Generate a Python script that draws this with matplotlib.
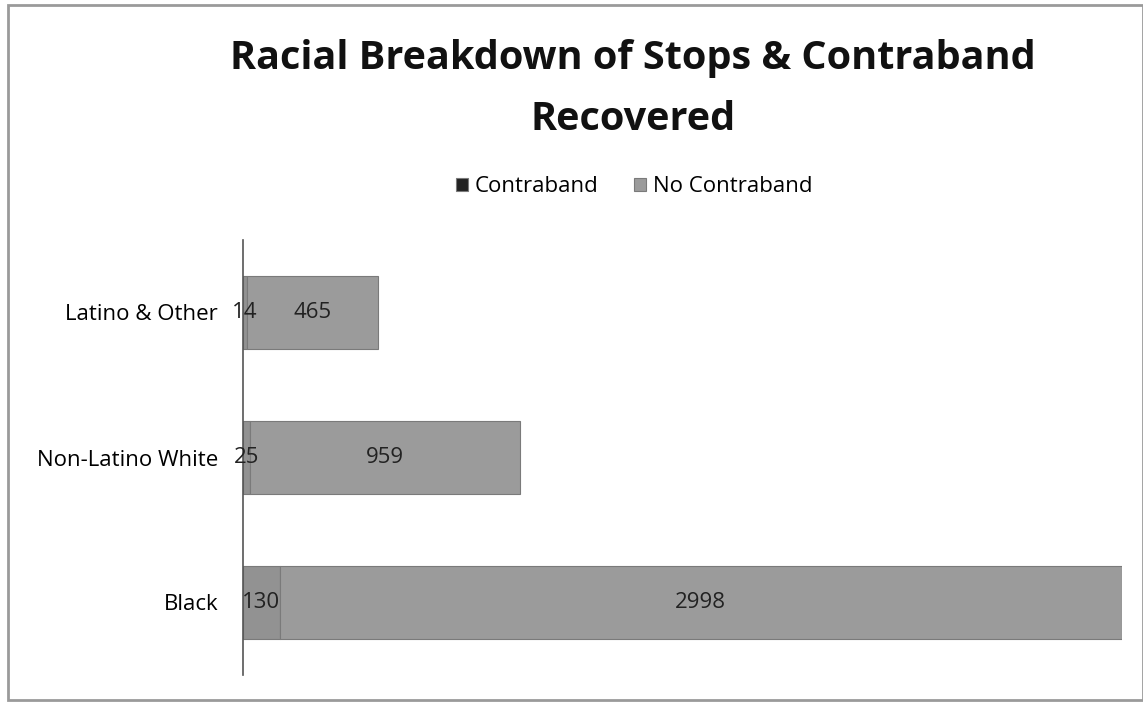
import numpy as np
import matplotlib
matplotlib.use("Agg")
import matplotlib.pyplot as plt
from matplotlib.patches import Rectangle

# stops by race, split by whether contraband was recovered
groups = ["Black", "Non-Latino White", "Latino & Other"]
contraband = [130, 25, 14]
no_contraband = [2998, 959, 465]

plt.rcParams['font.family'] = ['Open Sans', 'DejaVu Sans']

fig = plt.figure(figsize=(11.43, 7.02), dpi=100)
ax = fig.add_axes([243/1143, 1 - 675/702, (1122-243)/1143, (675-240)/702])

y = np.arange(len(groups))
c1 = "#929292"
c2 = "#9b9b9b"
b1 = ax.barh(y, contraband, height=0.5, color=c1, edgecolor="#7a7a7a", linewidth=0.8)
b2 = ax.barh(y, no_contraband, left=contraband, height=0.5, color=c2,
             edgecolor="#7a7a7a", linewidth=0.8)

for vals, lefts in [(contraband, [0]*3), (no_contraband, contraband)]:
    for i, (v, l) in enumerate(zip(vals, lefts)):
        ax.text(l + v/2, i, str(v), ha="center", va="center", fontsize=16, color="#222222")

ax.set_xlim(0, contraband[0] + no_contraband[0])
ax.set_ylim(-0.5, 2.5)
ax.set_yticks(y)
ax.set_yticklabels(groups, fontsize=16)
ax.tick_params(axis="y", length=0, pad=18)
ax.set_xticks([])
for s in ["top", "right", "bottom"]:
    ax.spines[s].set_visible(False)
ax.spines["left"].set_color("#555555")
ax.spines["left"].set_linewidth(1.2)

fig.text(0.554, 1 - 89/702, "Racial Breakdown of Stops & Contraband\nRecovered",
         ha="center", va="center", fontsize=28.5, fontweight="bold",
         linespacing=1.72, color="#111111")

leg = fig.legend([b1, b2], ["Contraband", "No Contraband"], loc="center",
                 bbox_to_anchor=(0.555, 1 - 187/702), ncol=2, frameon=False,
                 fontsize=16, handlelength=0.55, handleheight=0.55,
                 columnspacing=1.6, handletextpad=0.3)
leg.legend_handles[0].set_facecolor("#222222")

# outer frame
fig.add_artist(Rectangle((8/1143, 0.003), 1 - 8/1143, 1 - 5/702 - 0.003,
                         transform=fig.transFigure, fill=False,
                         edgecolor="#9a9a9a", linewidth=2))

fig.savefig("out.png", dpi=100)
